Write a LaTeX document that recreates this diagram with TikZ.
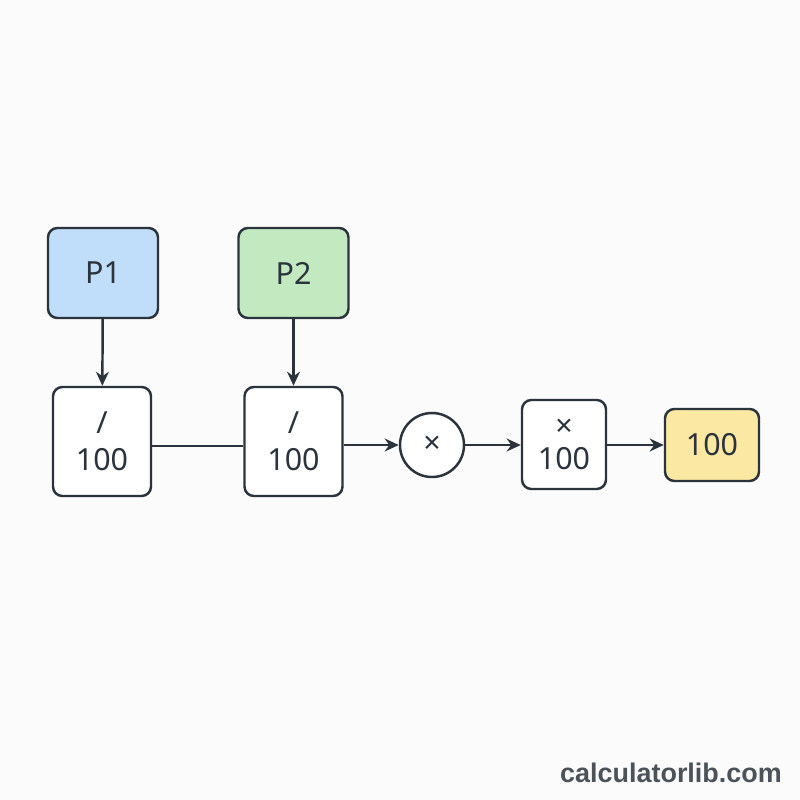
\documentclass[tikz,border=0pt]{standalone}
\usepackage{fontspec}
\setmainfont{Noto Sans}
\newfontfamily\markfont{Liberation Sans}
\usetikzlibrary{arrows.meta}

\definecolor{edge}{HTML}{2B333D}
\definecolor{pblue}{HTML}{C0DDFA}
\definecolor{pgreen}{HTML}{C3E9C1}
\definecolor{pyellow}{HTML}{FBE8A2}
\definecolor{bg}{HTML}{FBFBFC}

\tikzset{
	blk/.style = {draw = edge, line width = 2.1pt, rounded corners = 8pt, fill = white,
		inner sep = 0pt, align = center, font = \fontsize{26}{32}\selectfont, text = edge},
	flow/.style = {draw = edge, line width = 2.1pt, -{Stealth[length = 12pt, width = 11pt]}}
}

\begin{document}
\begin{tikzpicture}[x = 0.03cm, y = -0.03cm]
	\fill [bg] (0, 0) rectangle (800, 800);
	\node [blk, fill = pblue, minimum width = 3.3cm, minimum height = 2.7cm] (p1) at (103, 273) {P1};
	\node [blk, fill = pgreen, minimum width = 3.3cm, minimum height = 2.7cm] (p2) at (293.5, 273) {P2};
	\node [blk, minimum width = 2.94cm, minimum height = 3.27cm] (div1) at (102, 441.5) {/\\100};
	\node [blk, minimum width = 2.94cm, minimum height = 3.27cm] (div2) at (293.5, 441.5) {/\\100};
	\node [blk, circle, minimum size = 1.92cm, font = \fontsize{26}{30}\selectfont] (mul) at (432, 445) {×};
	\node [blk, minimum width = 2.52cm, minimum height = 2.67cm] (pct) at (564, 444.5) {×\\[-4pt]100};
	\node [blk, fill = pyellow, minimum width = 2.82cm, minimum height = 2.16cm] (res) at (712, 445) {100};
	% inputs
	\draw [flow] (p1) -- (div1);
	\draw [flow] (p2) -- (div2);
	% chain
	\draw [draw = edge, line width = 2.1pt] (div1.east |- 0, 446) -- (div2.west |- 0, 446);
	\draw [flow] (div2.east |- mul) -- (mul);
	\draw [flow] (mul) -- (pct.west |- mul);
	\draw [flow] (pct.east |- mul) -- (res.west |- mul);
	\node [font = \markfont\bfseries\fontsize{23}{26}\selectfont, text = edge!85] (mark) at (671, 773) {calculatorlib.com};
\end{tikzpicture}
\end{document}
